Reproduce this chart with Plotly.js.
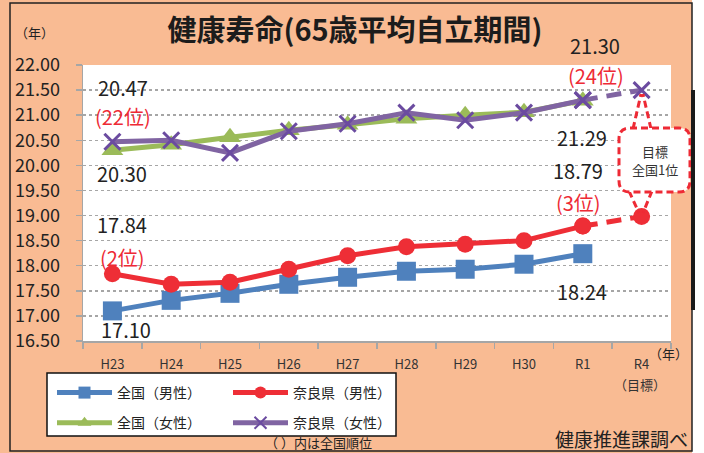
<!DOCTYPE html>
<html>
<head>
<meta charset="utf-8">
<script src="https://cdn.plot.ly/plotly-3.0.1.min.js"></script>
<style>html,body{margin:0;padding:0;background:#fff;}#chart{width:704px;height:453px;}</style>
</head>
<body>
<div id="chart"></div>
<script>
// ---- data ----
const categories = ['H23','H24','H25','H26','H27','H28','H29','H30','R1','R4'];
const tickLabels = ['H23','H24','H25','H26','H27','H28','H29','H30','R1','R4'];
const targetNote = '（目標）';
const zenkokuMale   = [17.10, 17.31, 17.45, 17.63, 17.77, 17.89, 17.93, 18.03, 18.24, null];
const naraMale      = [17.84, 17.63, 17.67, 17.93, 18.20, 18.38, 18.43, 18.50, 18.79, null];
const zenkokuFemale = [20.30, 20.41, 20.56, 20.70, 20.81, 20.93, 21.00, 21.06, 21.29, null];
const naraFemale    = [20.47, 20.50, 20.25, 20.68, 20.83, 21.05, 20.90, 21.05, 21.30, null];
const targetCats    = ['R1', 'R4'];
const naraMaleTarget   = [18.79, 18.98];
const naraFemaleTarget = [21.30, 21.50];
const naraMaleRank   = [2, 3];    // H23, R1
const naraFemaleRank = [22, 24];  // H23, R1

// ---- layout helpers (pixel -> paper) ----
const L = 83, R = 33, T = 65, B = 112, W = 704, H = 453;
const PW = W - L - R, PH = H - T - B;
const px = x => (x - L) / PW;
const py = y => (H - B - y) / PH;

const FONT = 'Noto Sans CJK JP, Noto Sans, sans-serif';
const BLUE = '#4F81BD', RED = '#EE2E36', GREEN = '#9BBB59', PURPLE = '#8064A2', PURPLE_M = '#6B4BA0';
const LABEL_RED = '#EE2A35', TXT = '#222222';

const traces = [
  {x: categories, y: zenkokuMale, name: '全国（男性）', type: 'scatter', mode: 'lines+markers',
   line: {color: BLUE, width: 5}, marker: {symbol: 'square', size: 19, color: BLUE},
   legend: 'legend', legendgroup: 'a'},
  {x: categories, y: zenkokuFemale, name: '全国（女性）', type: 'scatter', mode: 'lines+markers',
   line: {color: GREEN, width: 5}, marker: {symbol: 'triangle-up', size: 19, color: GREEN},
   legend: 'legend', legendgroup: 'b'},
  {x: categories, y: naraMale, name: '奈良県（男性）', type: 'scatter', mode: 'lines+markers',
   line: {color: RED, width: 5}, marker: {symbol: 'circle', size: 17, color: RED},
   legend: 'legend2', legendgroup: 'c'},
  {x: targetCats, y: naraMaleTarget, name: '奈良県（男性）目標', type: 'scatter', mode: 'lines+markers',
   line: {color: RED, width: 5, dash: '15px,9px'}, marker: {symbol: 'circle', size: 17, color: RED},
   showlegend: false},
  {x: categories, y: naraFemale, name: '奈良県（女性）', type: 'scatter', mode: 'lines+markers',
   line: {color: PURPLE, width: 5}, marker: {symbol: 'x-thin', size: 16, color: PURPLE_M, line: {color: PURPLE_M, width: 3}},
   legend: 'legend2', legendgroup: 'd'},
  {x: targetCats, y: naraFemaleTarget, name: '奈良県（女性）目標', type: 'scatter', mode: 'lines+markers',
   line: {color: PURPLE, width: 5, dash: '15px,9px'}, marker: {symbol: 'x-thin', size: 16, color: PURPLE_M, line: {color: PURPLE_M, width: 3}},
   showlegend: false}
];

function ann(text, x, y, opts) {
  return Object.assign({text: text, x: px(x), y: py(y), xref: 'paper', yref: 'paper',
    showarrow: false, xanchor: 'center', yanchor: 'middle',
    font: {family: FONT, size: 20, color: TXT}}, opts || {});
}

const annotations = [
  ann(naraFemale[0].toFixed(2), 123, 87),
  ann('(' + naraFemaleRank[0] + '位)', 123, 117, {font: {family: FONT, size: 20, color: LABEL_RED}}),
  ann(zenkokuFemale[0].toFixed(2), 122, 173),
  ann(naraMale[0].toFixed(2), 122, 224),
  ann('(' + naraMaleRank[0] + '位)', 122, 257, {font: {family: FONT, size: 20, color: LABEL_RED}}),
  ann(zenkokuMale[0].toFixed(2), 126, 329),
  ann(naraFemale[8].toFixed(2), 595, 46),
  ann('(' + naraFemaleRank[1] + '位)', 596, 75, {font: {family: FONT, size: 20, color: LABEL_RED}}),
  ann(zenkokuFemale[8].toFixed(2), 582, 137),
  ann(naraMale[8].toFixed(2), 578, 170),
  ann('(' + naraMaleRank[1] + '位)', 578, 202, {font: {family: FONT, size: 20, color: LABEL_RED}}),
  ann(zenkokuMale[8].toFixed(2), 582, 291),
  ann('目標', 655, 151, {font: {family: FONT, size: 13, color: '#333'}}),
  ann('全国1位', 655, 169, {font: {family: FONT, size: 13, color: '#333'}}),
  ann(targetNote, 640, 384, {font: {family: FONT, size: 13, color: '#333'}}),
  ann('（年）', 34, 33, {font: {family: FONT, size: 13, color: TXT}}),
  ann('（年）', 668, 353, {font: {family: FONT, size: 13, color: TXT}}),
  ann('（ ）内は全国順位', 318, 442, {font: {family: FONT, size: 13, color: TXT}}),
  ann('健康推進課調べ', 690, 438, {xanchor: 'right', font: {family: FONT, size: 19, color: TXT}})
];

function roundRect(x0, y0, x1, y1, r) {
  const X = v => px(v), Y = v => py(v);
  return 'M' + X(x0 + r) + ',' + Y(y0) + ' L' + X(x1 - r) + ',' + Y(y0) +
    ' Q' + X(x1) + ',' + Y(y0) + ' ' + X(x1) + ',' + Y(y0 + r) +
    ' L' + X(x1) + ',' + Y(y1 - r) +
    ' Q' + X(x1) + ',' + Y(y1) + ' ' + X(x1 - r) + ',' + Y(y1) +
    ' L' + X(x0 + r) + ',' + Y(y1) +
    ' Q' + X(x0) + ',' + Y(y1) + ' ' + X(x0) + ',' + Y(y1 - r) +
    ' L' + X(x0) + ',' + Y(y0 + r) +
    ' Q' + X(x0) + ',' + Y(y0) + ' ' + X(x0 + r) + ',' + Y(y0) + ' Z';
}
function seg(x0, y0, x1, y1, line, layer) {
  return {type: 'line', xref: 'paper', yref: 'paper', x0: px(x0), y0: py(y0), x1: px(x1), y1: py(y1),
    line: line, layer: layer || 'above'};
}
const dashRed = {color: LABEL_RED, width: 3, dash: '7px,4px'};

const shapes = [
  // white strip outside the frame
  {type: 'rect', xref: 'paper', yref: 'paper', x0: px(692), x1: px(704), y0: py(0), y1: py(453),
   fillcolor: '#ffffff', line: {width: 0}, layer: 'below'},
  // outer frame
  {type: 'rect', xref: 'paper', yref: 'paper', x0: px(10), x1: px(692), y0: py(451), y1: py(3),
   fillcolor: 'rgba(0,0,0,0)', line: {color: '#222', width: 1.5}, layer: 'below'},
  // legend box
  {type: 'rect', xref: 'paper', yref: 'paper', x0: px(47), x1: px(396), y0: py(436), y1: py(373),
   fillcolor: '#ffffff', line: {color: '#111', width: 1.5}, layer: 'below'},
  // callout pointers
  seg(633, 129, 641, 94, dashRed), seg(651, 129, 643, 94, dashRed),
  seg(629, 191, 639, 213, dashRed), seg(652, 191, 643, 213, dashRed),
  // callout box
  {type: 'path', xref: 'paper', yref: 'paper', path: roundRect(619, 128, 690, 192, 11),
   fillcolor: '#ffffff', line: dashRed, layer: 'above'},
  // thick dark bar on the right edge
  seg(693, 90, 693, 310, {color: '#1a1a1a', width: 4})
];

const legendBase = {
  yanchor: 'top', xanchor: 'left', y: py(377), bgcolor: 'rgba(0,0,0,0)', borderwidth: 0,
  font: {family: FONT, size: 14, color: TXT}, tracegroupgap: 9, traceorder: 'grouped',
  itemwidth: 55, itemsizing: 'constant', orientation: 'v'
};

const layout = {
  width: W, height: H,
  margin: {l: L, r: R, t: T, b: B, pad: 0},
  paper_bgcolor: '#F9BB93',
  plot_bgcolor: '#ffffff',
  font: {family: FONT, color: TXT},
  title: {text: '<b>健康寿命(65歳平均自立期間)</b>', xref: 'container', yref: 'container',
    x: 355 / W, xanchor: 'center', y: 1 - 31 / H, yanchor: 'middle',
    font: {family: FONT, size: 29, color: '#1c1c1c'}},
  xaxis: {
    type: 'category', categoryorder: 'array', categoryarray: categories,
    tickmode: 'array', tickvals: categories, ticktext: tickLabels,
    range: [-0.5, 9.5], tickson: 'boundaries', tickangle: 0,
    showline: true, linecolor: '#A6A6A6', linewidth: 1.5,
    ticks: 'outside', ticklen: 6, tickcolor: '#A6A6A6', tickwidth: 1.5,
    showgrid: false, zeroline: false,
    tickfont: {family: FONT, size: 13, color: '#333'}, ticklabelstandoff: 11
  },
  yaxis: {
    range: [16.5, 22], dtick: 0.5, tick0: 16.5, tickformat: '.2f',
    showline: true, linecolor: '#A6A6A6', linewidth: 1.5,
    ticks: 'outside', ticklen: 6, tickcolor: '#A6A6A6', tickwidth: 1.5,
    showgrid: true, gridcolor: '#A6A6A6', gridwidth: 1.5, griddash: 'dot', zeroline: false,
    tickfont: {family: FONT, size: 18, color: TXT}, ticklabelstandoff: 12
  },
  legend: Object.assign({}, legendBase, {x: px(52)}),
  legend2: Object.assign({}, legendBase, {x: px(228)}),
  annotations: annotations,
  shapes: shapes
};

Plotly.newPlot('chart', traces, layout, {staticPlot: true, displayModeBar: false});
</script>
</body>
</html>
